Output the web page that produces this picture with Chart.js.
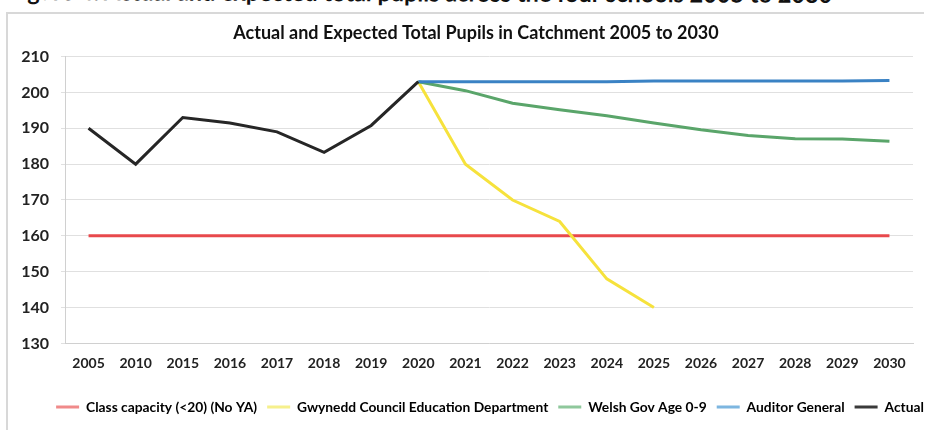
<!DOCTYPE html>
<html>
<head>
<meta charset="utf-8">
<script src="https://cdn.jsdelivr.net/npm/chart.js@4/dist/chart.umd.min.js"></script>
<style>
  html, body { margin: 0; padding: 0; background: #fff; overflow: hidden; }
  #wrap { position: relative; width: 932px; height: 430px; }
  #heading {
    position: absolute; left: 8px; top: -23px; white-space: nowrap;
    font: bold 23.5px "Liberation Sans Narrow", "Lato", sans-serif; color: #111;
    transform: rotate(0.2deg); transform-origin: left top;
  }
  #frame {
    position: absolute; left: 6px; top: 12px; width: 916px; height: 430px;
    border-left: 2px solid #d8d8d8; border-top: 2px solid #d8d8d8;
  }
  canvas { position: absolute; left: 0; top: 0; }
</style>
</head>
<body>
<div id="wrap">
  <div id="heading">Figure 4: Actual and expected total pupils across the four schools 2005 to 2030</div>
  <div id="frame"></div>
  <canvas id="chart" width="932" height="430"></canvas>
</div>
<script>
// categories (x axis)
const years = ['2005', '2010', '2015', '2016', '2017', '2018', '2019', '2020', '2021',
  '2022', '2023', '2024', '2025', '2026', '2027', '2028', '2029', '2030']

// series
const classCapacity = [160, 160, 160, 160, 160, 160, 160, 160, 160, 160, 160, 160, 160, 160, 160, 160, 160, 160]
const gwynedd = [null, null, null, null, null, null, null, 203, 180, 170, 164, 148, 140, null, null, null, null, null]
const welshGov = [null, null, null, null, null, null, null, 203, 200.5, 197, 195.2, 193.5, 191.5, 189.6, 188, 187.1, 187, 186.4]
const auditorGeneral = [null, null, null, null, null, null, null, 203, 203, 203, 203, 203, 203.2, 203.2, 203.2, 203.2, 203.2, 203.3]
const actual = [190, 180, 193, 191.5, 189, 183.3, 190.8, 203, null, null, null, null, null, null, null, null, null, null]

const yTicks = { min: 130, max: 210, step: 10 }

const series = [
  { label: 'Class capacity (<20) (No YA)', data: classCapacity, color: '#e8494c', legend: '#f08a8a', order: 5 },
  { label: 'Gwynedd Council Education Department', data: gwynedd, color: '#f6e23c', legend: '#f6f08c', order: 4 },
  { label: 'Welsh Gov Age 0-9', data: welshGov, color: '#5aa56a', legend: '#8fc89c', order: 3 },
  { label: 'Auditor General', data: auditorGeneral, color: '#3a82c4', legend: '#7db6e0', order: 2 },
  { label: 'Actual', data: actual, color: '#262626', legend: '#3a3a3a', order: 1 }
]

const tickFont = { family: 'Lato', weight: 'bold' }

// title and legend sit a little right of the canvas centre in the original
const nudgeBoxes = {
  id: 'nudgeBoxes',
  afterLayout(chart) {
    if (chart.titleBlock) chart.titleBlock.left += 32
    if (chart.legend) {
      chart.legend.left += 30
      chart.legend.right += 30
    }
  }
}

new Chart(document.getElementById('chart').getContext('2d'), {
  type: 'line',
  data: {
    labels: years,
    datasets: series.map(s => ({
      label: s.label,
      data: s.data,
      borderColor: s.color,
      backgroundColor: s.legend,
      borderWidth: 3,
      pointRadius: 0,
      tension: 0,
      fill: false,
      spanGaps: false,
      order: s.order
    }))
  },
  plugins: [nudgeBoxes],
  options: {
    responsive: false,
    animation: false,
    devicePixelRatio: 1,
    layout: { padding: { left: 7, right: 19, top: 18, bottom: 6 } },
    plugins: {
      title: {
        display: true,
        text: 'Actual and Expected Total Pupils in Catchment 2005 to 2030',
        color: '#111',
        font: { family: 'Lato', weight: 'bold', size: 18 },
        padding: { top: 4, bottom: 13 }
      },
      legend: {
        position: 'bottom',
        labels: {
          color: '#222',
          font: { family: 'Lato', weight: 'bold', size: 13.8 },
          boxWidth: 23,
          boxHeight: 3,
          padding: 10,
          generateLabels: chart => chart.data.datasets.map((ds, i) => ({
            text: ds.label,
            fillStyle: ds.backgroundColor,
            strokeStyle: ds.backgroundColor,
            lineWidth: 0,
            hidden: false,
            datasetIndex: i
          }))
        }
      },
      tooltip: { enabled: false }
    },
    scales: {
      x: {
        offset: true,
        afterFit: scale => { scale.height += 10 },
        grid: { display: false, drawTicks: true, tickLength: 4, color: '#d0d0d0', offset: true },
        border: { color: '#d0d0d0', width: 1 },
        ticks: { color: '#222', font: { ...tickFont, size: 14 }, padding: 8, maxRotation: 0, autoSkip: false }
      },
      y: {
        min: yTicks.min,
        max: yTicks.max,
        afterFit: scale => { scale.width = 58 },
        grid: { color: '#e0e0e0', tickLength: 4, drawTicks: true },
        border: { color: '#d0d0d0', width: 1 },
        ticks: { stepSize: yTicks.step, color: '#222', font: { ...tickFont, size: 16 }, padding: 12 }
      }
    }
  }
})
</script>
</body>
</html>
